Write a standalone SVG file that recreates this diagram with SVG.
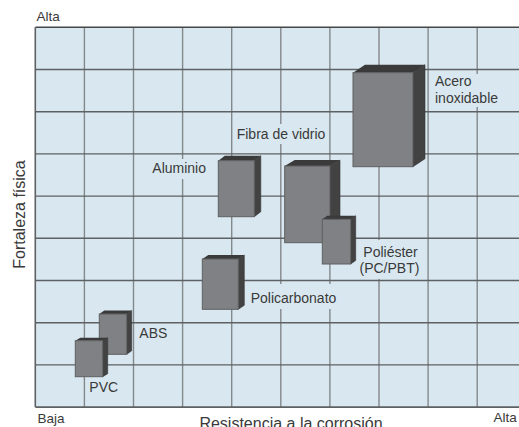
<svg xmlns="http://www.w3.org/2000/svg" width="519" height="427" viewBox="0 0 519 427">
<style>
text{font-family:"Liberation Sans",Arial,sans-serif;fill:#3a3a3a}
.lbl{font-size:14px}
.axis{font-size:13.5px}
.title{font-size:16px}
.hl{stroke:#5d6163;stroke-width:1.4}
.vl{stroke:#83888b;stroke-width:1.4}
.front{fill:#808184;stroke:#5e5f61;stroke-width:1}
.top{fill:#3a3a3a}
.side{fill:#424242;stroke:#333;stroke-width:0.6}
.bg{fill:#d9e8f0}
</style>
<rect width="519" height="427" fill="#ffffff"/>
<g id="grid">
<rect x="35.3" y="27.3" width="484" height="379.8" fill="#d9e8f0"/>
<g class="vl">
<line x1="84.4" y1="27.3" x2="84.4" y2="407.1"/>
<line x1="133.5" y1="27.3" x2="133.5" y2="407.1"/>
<line x1="182.6" y1="27.3" x2="182.6" y2="407.1"/>
<line x1="231.7" y1="27.3" x2="231.7" y2="407.1"/>
<line x1="280.8" y1="27.3" x2="280.8" y2="407.1"/>
<line x1="329.9" y1="27.3" x2="329.9" y2="407.1"/>
<line x1="379" y1="27.3" x2="379" y2="407.1"/>
<line x1="428.1" y1="27.3" x2="428.1" y2="407.1"/>
<line x1="477.2" y1="27.3" x2="477.2" y2="407.1"/>
</g>
<g class="hl">
<line x1="35.3" y1="69.5" x2="519" y2="69.5"/>
<line x1="35.3" y1="111.7" x2="519" y2="111.7"/>
<line x1="35.3" y1="153.9" x2="519" y2="153.9"/>
<line x1="35.3" y1="196.1" x2="519" y2="196.1"/>
<line x1="35.3" y1="238.3" x2="519" y2="238.3"/>
<line x1="35.3" y1="280.5" x2="519" y2="280.5"/>
<line x1="35.3" y1="322.7" x2="519" y2="322.7"/>
<line x1="35.3" y1="364.9" x2="519" y2="364.9"/>
</g>
<line x1="35.3" y1="27.3" x2="519" y2="27.3" stroke="#454849" stroke-width="1.6"/>
<line x1="35.3" y1="407.1" x2="519" y2="407.1" stroke="#5d6163" stroke-width="1.6"/>
<line x1="35.3" y1="27.3" x2="35.3" y2="407.1" stroke="#5d6163" stroke-width="1.6"/>
</g>
<g id="axes">
<text class="axis" x="36.5" y="20.5">Alta</text>
<text class="axis" x="37.5" y="423">Baja</text>
<text class="axis" x="493.5" y="422">Alta</text>
<text class="title" x="291" y="428.5" text-anchor="middle">Resistencia a la corrosión</text>
<text class="title" x="0" y="0" font-size="17.5" text-anchor="middle" transform="translate(25 214.5) rotate(-90)">Fortaleza física</text>
</g>
<g id="connectors"></g>
<g id="acero">
<polygon class="top" points="353,72.7 365,64.7 425,64.7 413,72.7"/>
<polygon class="side" points="413,72.7 425,64.7 425,158.7 413,166.7"/>
<rect class="front" x="353" y="72.7" width="60" height="94"/>
<rect class="bg" x="432" y="74" width="48" height="33"/>
<text class="lbl" x="435" y="86">Acero</text>
<text class="lbl" x="435" y="102.7">inoxidable</text>
</g>
<g id="aluminio">
<polygon class="top" points="218.3,160.7 224.8,155.7 260.8,155.7 254.3,160.7"/>
<polygon class="side" points="254.3,160.7 260.8,155.7 260.8,211.7 254.3,216.7"/>
<rect class="front" x="218.3" y="160.7" width="36" height="56"/>
<rect class="bg" x="149" y="159" width="62" height="20"/>
<text class="lbl" x="152.3" y="173.3">Aluminio</text>
</g>
<g id="fibra">
<polygon class="top" points="284.7,166 294.7,160 340,160 330,166"/>
<polygon class="side" points="330,166 340,160 340,236.7 330,242.7"/>
<rect class="front" x="284.7" y="166" width="45.3" height="76.7"/>
<rect class="bg" x="234" y="124" width="94" height="20"/>
<text class="lbl" x="236.7" y="139">Fibra de vidrio</text>
</g>
<g id="poliester">
<polygon class="top" points="322.3,219.3 327.3,215.8 355.7,215.8 350.7,219.3"/>
<polygon class="side" points="350.7,219.3 355.7,215.8 355.7,260.5 350.7,264"/>
<rect class="front" x="322.3" y="219.3" width="28.4" height="44.7"/>
<rect class="bg" x="359" y="240" width="65" height="39"/>
<text class="lbl" x="363.3" y="257">Poliéster</text>
<text class="lbl" x="359.5" y="273">(PC/PBT)</text>
</g>
<g id="policarbonato">
<polygon class="top" points="202.3,259 208.3,255 244.3,255 238.3,259"/>
<polygon class="side" points="238.3,259 244.3,255 244.3,305.3 238.3,309.3"/>
<rect class="front" x="202.3" y="259" width="36" height="50.3"/>
<rect class="bg" x="247" y="284" width="94" height="25"/>
<text class="lbl" x="250.7" y="303">Policarbonato</text>
</g>
<g id="abs">
<polygon class="top" points="99.3,314 104.3,310.5 131.7,310.5 126.7,314"/>
<polygon class="side" points="126.7,314 131.7,310.5 131.7,350.8 126.7,354.3"/>
<rect class="front" x="99.3" y="314" width="27.4" height="40.3"/>
<text class="lbl" x="139.3" y="338">ABS</text>
</g>
<g id="pvc">
<polygon class="top" points="75.3,340.7 80.3,337.7 107.7,337.7 102.7,340.7"/>
<polygon class="side" points="102.7,340.7 107.7,337.7 107.7,373.7 102.7,376.7"/>
<rect class="front" x="75.3" y="340.7" width="27.4" height="36"/>
<text class="lbl" x="89.3" y="391.7">PVC</text>
</g>
</svg>
